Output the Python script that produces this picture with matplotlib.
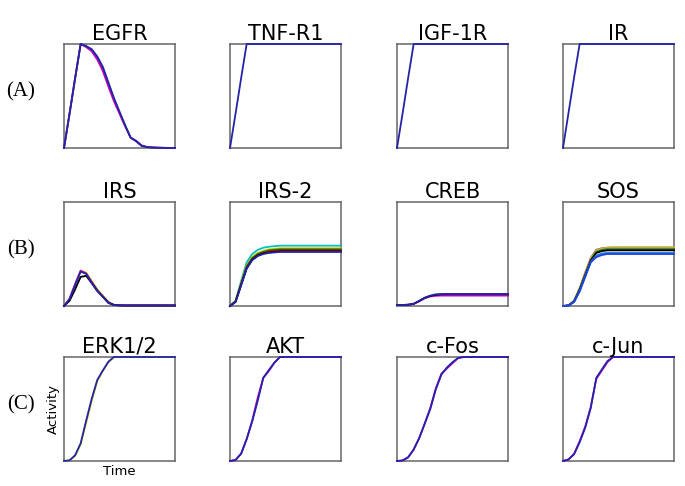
import numpy as np
import matplotlib
matplotlib.use("Agg")
import matplotlib.pyplot as plt

# time points (arbitrary units)
time = [0, 1, 2, 3, 4, 5, 6, 7, 8, 9, 10, 11, 12, 13, 14, 15, 16, 17, 18, 19, 20]

# --- row A: receptors ---
egfr_blue = [0, 0.33, 0.67, 1.0, 0.98, 0.95, 0.88, 0.78, 0.63, 0.48, 0.35, 0.22, 0.10, 0.065, 0.02, 0.008, 0.004, 0.002, 0.001, 0, 0]
egfr_mag = [0, 0.33, 0.67, 1.0, 0.97, 0.93, 0.85, 0.74, 0.59, 0.45, 0.33, 0.21, 0.10, 0.07, 0.025, 0.01, 0.006, 0.004, 0.002, 0.001, 0]
egfr_green = [0, 0.33, 0.67, 1.0, 0.98, 0.94, 0.87, 0.77, 0.62, 0.47, 0.34, 0.22, 0.10, 0.065, 0.02, 0.008, 0.004, 0.002, 0.001, 0, 0]
tnfr1_blue = [0, 0.33, 0.67, 1, 1, 1, 1, 1, 1, 1, 1, 1, 1, 1, 1, 1, 1, 1, 1, 1, 1]
igf1r_blue = [0, 0.33, 0.67, 1, 1, 1, 1, 1, 1, 1, 1, 1, 1, 1, 1, 1, 1, 1, 1, 1, 1]
ir_blue = [0, 0.34, 0.68, 1, 1, 1, 1, 1, 1, 1, 1, 1, 1, 1, 1, 1, 1, 1, 1, 1, 1]

# --- row B: adaptors / transcription factor ---
irs_yellow = [0, 0.07, 0.21, 0.34, 0.32, 0.24, 0.16, 0.10, 0.04, 0.012, 0.006, 0.005, 0.005, 0.005, 0.005, 0.005, 0.005, 0.005, 0.005, 0.005, 0.005]
irs_mag = [0, 0.07, 0.21, 0.34, 0.31, 0.23, 0.15, 0.09, 0.035, 0.01, 0.006, 0.005, 0.005, 0.005, 0.005, 0.005, 0.005, 0.005, 0.005, 0.005, 0.005]
irs_black = [0, 0.05, 0.16, 0.28, 0.29, 0.22, 0.145, 0.09, 0.03, 0.01, 0.006, 0.005, 0.005, 0.005, 0.005, 0.005, 0.005, 0.005, 0.005, 0.005, 0.005]
irs_blue = [0, 0.065, 0.20, 0.33, 0.31, 0.22, 0.145, 0.09, 0.03, 0.01, 0.006, 0.005, 0.005, 0.005, 0.005, 0.005, 0.005, 0.005, 0.005, 0.005, 0.005]

irs2_cyan = [0, 0.05, 0.24, 0.42, 0.50, 0.54, 0.56, 0.57, 0.575, 0.58, 0.58, 0.58, 0.58, 0.58, 0.58, 0.58, 0.58, 0.58, 0.58, 0.58, 0.58]
irs2_yellow = [0, 0.045, 0.22, 0.39, 0.47, 0.51, 0.53, 0.545, 0.55, 0.555, 0.555, 0.555, 0.555, 0.555, 0.555, 0.555, 0.555, 0.555, 0.555, 0.555, 0.555]
irs2_green = [0, 0.045, 0.21, 0.38, 0.46, 0.50, 0.52, 0.535, 0.54, 0.545, 0.545, 0.545, 0.545, 0.545, 0.545, 0.545, 0.545, 0.545, 0.545, 0.545, 0.545]
irs2_red = [0, 0.04, 0.21, 0.37, 0.45, 0.49, 0.51, 0.525, 0.53, 0.535, 0.535, 0.535, 0.535, 0.535, 0.535, 0.535, 0.535, 0.535, 0.535, 0.535, 0.535]
irs2_black = [0, 0.04, 0.20, 0.36, 0.445, 0.485, 0.505, 0.515, 0.52, 0.525, 0.525, 0.525, 0.525, 0.525, 0.525, 0.525, 0.525, 0.525, 0.525, 0.525, 0.525]
irs2_blue = [0, 0.04, 0.20, 0.36, 0.44, 0.48, 0.50, 0.51, 0.515, 0.52, 0.52, 0.52, 0.52, 0.52, 0.52, 0.52, 0.52, 0.52, 0.52, 0.52, 0.52]

creb_mag = [0.01, 0.01, 0.012, 0.02, 0.045, 0.075, 0.092, 0.098, 0.10, 0.10, 0.10, 0.10, 0.10, 0.10, 0.10, 0.10, 0.10, 0.10, 0.10, 0.10, 0.10]
creb_black = [0.01, 0.01, 0.012, 0.021, 0.048, 0.078, 0.097, 0.108, 0.112, 0.113, 0.113, 0.113, 0.113, 0.113, 0.113, 0.113, 0.113, 0.113, 0.113, 0.113, 0.113]
creb_blue = [0.01, 0.01, 0.012, 0.02, 0.05, 0.08, 0.10, 0.112, 0.115, 0.115, 0.115, 0.115, 0.115, 0.115, 0.115, 0.115, 0.115, 0.115, 0.115, 0.115, 0.115]

sos_red = [0, 0.006, 0.05, 0.17, 0.32, 0.46, 0.54, 0.555, 0.56, 0.56, 0.56, 0.56, 0.56, 0.56, 0.56, 0.56, 0.56, 0.56, 0.56, 0.56, 0.56]
sos_yellow = [0, 0.006, 0.05, 0.165, 0.315, 0.455, 0.535, 0.555, 0.562, 0.565, 0.565, 0.565, 0.565, 0.565, 0.565, 0.565, 0.565, 0.565, 0.565, 0.565, 0.565]
sos_green = [0, 0.005, 0.045, 0.16, 0.30, 0.44, 0.52, 0.538, 0.545, 0.545, 0.545, 0.545, 0.545, 0.545, 0.545, 0.545, 0.545, 0.545, 0.545, 0.545, 0.545]
sos_black = [0, 0.005, 0.045, 0.155, 0.295, 0.435, 0.51, 0.528, 0.535, 0.535, 0.535, 0.535, 0.535, 0.535, 0.535, 0.535, 0.535, 0.535, 0.535, 0.535, 0.535]
sos_cyan = [0, 0.004, 0.04, 0.145, 0.285, 0.425, 0.485, 0.505, 0.51, 0.51, 0.51, 0.51, 0.51, 0.51, 0.51, 0.51, 0.51, 0.51, 0.51, 0.51, 0.51]
sos_blue = [0, 0.004, 0.04, 0.14, 0.28, 0.42, 0.47, 0.49, 0.50, 0.50, 0.50, 0.50, 0.50, 0.50, 0.50, 0.50, 0.50, 0.50, 0.50, 0.50, 0.50]

# --- row C: downstream kinases / genes ---
erk_yellow = [0, 0.006, 0.05, 0.16, 0.37, 0.58, 0.77, 0.87, 0.95, 1, 1, 1, 1, 1, 1, 1, 1, 1, 1, 1, 1]
erk_blue = [0, 0.006, 0.055, 0.17, 0.39, 0.60, 0.78, 0.87, 0.955, 1, 1, 1, 1, 1, 1, 1, 1, 1, 1, 1, 1]
akt_mag = [0, 0.01, 0.07, 0.21, 0.39, 0.61, 0.80, 0.865, 0.945, 1, 1, 1, 1, 1, 1, 1, 1, 1, 1, 1, 1]
akt_blue = [0, 0.01, 0.07, 0.21, 0.38, 0.58, 0.80, 0.875, 0.945, 1, 1, 1, 1, 1, 1, 1, 1, 1, 1, 1, 1]
cfos_mag = [0, 0.005, 0.035, 0.11, 0.22, 0.36, 0.51, 0.70, 0.84, 0.89, 0.94, 0.99, 1, 1, 1, 1, 1, 1, 1, 1, 1]
cfos_blue = [0, 0.005, 0.035, 0.11, 0.22, 0.36, 0.50, 0.69, 0.83, 0.90, 0.95, 0.99, 1, 1, 1, 1, 1, 1, 1, 1, 1]
cjun_mag = [0, 0.015, 0.07, 0.19, 0.33, 0.52, 0.79, 0.87, 0.95, 1, 1, 1, 1, 1, 1, 1, 1, 1, 1, 1, 1]
cjun_blue = [0, 0.015, 0.065, 0.18, 0.32, 0.51, 0.80, 0.88, 0.96, 1, 1, 1, 1, 1, 1, 1, 1, 1, 1, 1, 1]

titles = ["EGFR", "TNF-R1", "IGF-1R", "IR",
          "IRS", "IRS-2", "CREB", "SOS",
          "ERK1/2", "AKT", "c-Fos", "c-Jun"]
row_labels = ["(A)", "(B)", "(C)"]

BLUE = "#2424a8"
series = [
    [("#00a000", egfr_green), ("#c000c0", egfr_mag), (BLUE, egfr_blue)],
    [(BLUE, tnfr1_blue)],
    [(BLUE, igf1r_blue)],
    [(BLUE, ir_blue)],
    [("#d0b000", irs_yellow), ("#c000c0", irs_mag), ("k", irs_black), (BLUE, irs_blue)],
    [("#00c0c0", irs2_cyan), ("#c8c800", irs2_yellow), ("#008000", irs2_green),
     ("#d00000", irs2_red), ("k", irs2_black), (BLUE, irs2_blue)],
    [("#d000d0", creb_mag), ("k", creb_black), (BLUE, creb_blue)],
    [("#d02020", sos_red), ("#b8b040", sos_yellow), ("#208020", sos_green),
     ("k", sos_black), ("#2080d0", sos_cyan), ("#1f3fe0", sos_blue)],
    [("#c8c800", erk_yellow), (BLUE, erk_blue)],
    [("#c000c0", akt_mag), (BLUE, akt_blue)],
    [("#c000c0", cfos_mag), (BLUE, cfos_blue)],
    [("#c000c0", cjun_mag), (BLUE, cjun_blue)],
]

W, H = 685, 486
fig = plt.figure(figsize=(W / 100, H / 100), dpi=100)

col_left = [64, 230, 397, 563]
row_top = [44, 202, 357]
box_w, box_h = 111, 104

for i, title in enumerate(titles):
    r, c = divmod(i, 4)
    ax = fig.add_axes([col_left[c] / W, 1 - (row_top[r] + box_h) / H, box_w / W, box_h / H])
    for color, vals in series[i]:
        ax.plot(time, vals, color=color, linewidth=1.3, clip_on=False, zorder=3)
    ax.set_xlim(0, 20)
    ax.set_ylim(0, 1)
    ax.set_xticks([])
    ax.set_yticks([])
    for sp in ax.spines.values():
        sp.set_color("#666666")
        sp.set_linewidth(1.1)
    ax.set_title(title, fontsize=15, pad=3)
    if i == 8:
        ax.set_ylabel("Activity", fontsize=9.5, labelpad=3)
        ax.set_xlabel("Time", fontsize=9.5, labelpad=3)

for r, lab in enumerate(row_labels):
    yc = row_top[r] + box_h / 2 - 4
    fig.text(21 / W, 1 - yc / H, lab, fontsize=15, family="Liberation Serif",
             ha="center", va="center")

fig.savefig("out.png", dpi=100)
